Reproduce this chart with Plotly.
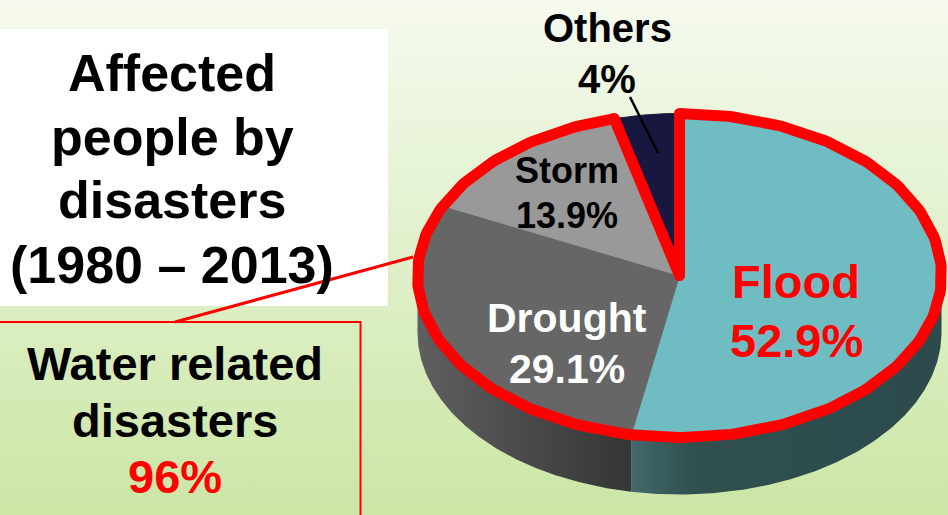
import numpy as np
import plotly.graph_objects as go

# ---------------- data ----------------
categories = ["Flood", "Drought", "Storm", "Others"]
shares = [52.9, 29.1, 13.9, 4.0]          # percent of affected people
water_related = ["Flood", "Drought", "Storm"]
water_related_total = "96%"
title_lines = ["Affected", "people by", "disasters", "(1980 – 2013)"]

top_colors = {"Flood": "#6fbdc3", "Drought": "#666666", "Storm": "#999999", "Others": "#17173f"}
side_scales = {
    "Flood": [[0, "#43696b"], [0.2, "#30504f"], [1, "#2c4a4c"]],
    "Drought": [[0, "#5f5f5f"], [1, "#353535"]],
    "Storm": [[0, "#555555"], [1, "#444444"]],
    "Others": [[0, "#10102a"], [1, "#10102a"]],
}

# ---------------- geometry (tilted pie) ----------------
W, H = 948, 515
CX, CY, RX, RY, DEPTH = 679.5, 275.5, 262, 162, 57
RED_W = 11
FONT = "Liberation Sans, Arial, sans-serif"


def arc(t0, t1, n=160):
    th = np.radians(np.linspace(t0, t1, n))
    return CX + RX * np.sin(th), CY - RY * np.cos(th)


frac = np.array(shares) / sum(shares)
bounds = np.concatenate([[0.0], np.cumsum(frac) * 360.0])

fig = go.Figure()

# background gradient
fig.add_trace(go.Scatter(
    x=[-5, W + 5, W + 5, -5, -5], y=[-5, -5, H + 5, H + 5, -5],
    mode="lines", line=dict(width=0), fill="toself",
    fillgradient=dict(type="vertical", start=0, stop=H,
                      colorscale=[[0, "#f5faee"], [1, "#cbe6a5"]]),
    hoverinfo="skip"))

# visible side walls (front half: 90..270 deg)
for i, cat in enumerate(categories):
    a, b = max(bounds[i], 90.0), min(bounds[i + 1], 270.0)
    if b <= a:
        continue
    xs, ys = arc(a, b)
    px = np.concatenate([xs, xs[::-1], xs[:1]])
    py = np.concatenate([ys, ys[::-1] + DEPTH, ys[:1]])
    fig.add_trace(go.Scatter(
        x=px, y=py, mode="lines", line=dict(width=0), fill="toself",
        fillgradient=dict(type="horizontal", start=float(xs.min()), stop=float(xs.max()),
                          colorscale=side_scales[cat]),
        hoverinfo="skip"))

# top slices
for i, cat in enumerate(categories):
    xs, ys = arc(bounds[i], bounds[i + 1])
    px = np.concatenate([[CX], xs, [CX]])
    py = np.concatenate([[CY], ys, [CY]])
    fig.add_trace(go.Scatter(
        x=px, y=py, mode="lines", line=dict(width=1, color=top_colors[cat]),
        fill="toself", fillcolor=top_colors[cat], hoverinfo="skip"))

# red outline around water-related slices (pieces + round joints)
n_w = len(water_related)
xs, ys = arc(bounds[0], bounds[n_w], 300)
red_line = dict(width=RED_W, color="#ff0000")
for sx, sy in [([CX, xs[0]], [CY, ys[0]]), (xs, ys), ([xs[-1], CX], [ys[-1], CY])]:
    fig.add_trace(go.Scatter(x=sx, y=sy, mode="lines", line=red_line, hoverinfo="skip"))
fig.add_trace(go.Scatter(
    x=[CX, xs[0], xs[-1]], y=[CY, ys[0], ys[-1]], mode="markers",
    marker=dict(size=RED_W, color="#ff0000", line=dict(width=0)), hoverinfo="skip"))

# ---------------- layout decorations ----------------
shapes = [
    dict(type="rect", xref="x", yref="y", x0=-5, y0=29, x1=388, y1=306,
         fillcolor="white", line=dict(width=0), layer="above"),
    dict(type="rect", xref="x", yref="y", x0=-10, y0=322, x1=360.5, y1=H + 20,
         fillcolor="rgba(0,0,0,0)", line=dict(color="#ff0000", width=2), layer="above"),
    dict(type="line", xref="x", yref="y", x0=175, y0=322, x1=413, y1=257,
         line=dict(color="#ff0000", width=3), layer="above"),
    dict(type="line", xref="x", yref="y", x0=630, y0=97, x1=658, y1=153,
         line=dict(color="black", width=2.5), layer="above"),
]

annotations = []


def ann(text, x, baseline, size, color="black"):
    annotations.append(dict(
        text=f"<b>{text}</b>", x=x, y=baseline - 0.3465 * size, xref="x", yref="y",
        showarrow=False, xanchor="center", yanchor="middle",
        font=dict(family=FONT, size=size, color=color)))


for line, base in zip(title_lines, [91, 155, 218, 283]):
    ann(line, 172, base, 52)

ann("Water related", 175, 380, 47)
ann("disasters", 175, 437, 47)
ann(water_related_total, 175, 493, 47, "#ff0000")

label_specs = {
    "Flood": (796, [298, 357], 47, "#ff0000"),
    "Drought": (567, [332, 383], 41, "white"),
    "Storm": (567, [183, 228], 36, "black"),
    "Others": (607, [42, 93], 40, "black"),
}
for cat, val in zip(categories, shares):
    x, bases, size, color = label_specs[cat]
    pct = f"{val:g}%" if cat == "Others" else f"{val:.1f}%"
    ann(cat, x, bases[0], size, color)
    ann(pct, x, bases[1], size, color)

fig.update_layout(
    width=W, height=H, margin=dict(l=0, r=0, t=0, b=0),
    paper_bgcolor="white", plot_bgcolor="white", showlegend=False,
    xaxis=dict(range=[0, W], visible=False, fixedrange=True),
    yaxis=dict(range=[H, 0], visible=False, fixedrange=True),
    shapes=shapes, annotations=annotations,
)

fig.write_html("out.html")
